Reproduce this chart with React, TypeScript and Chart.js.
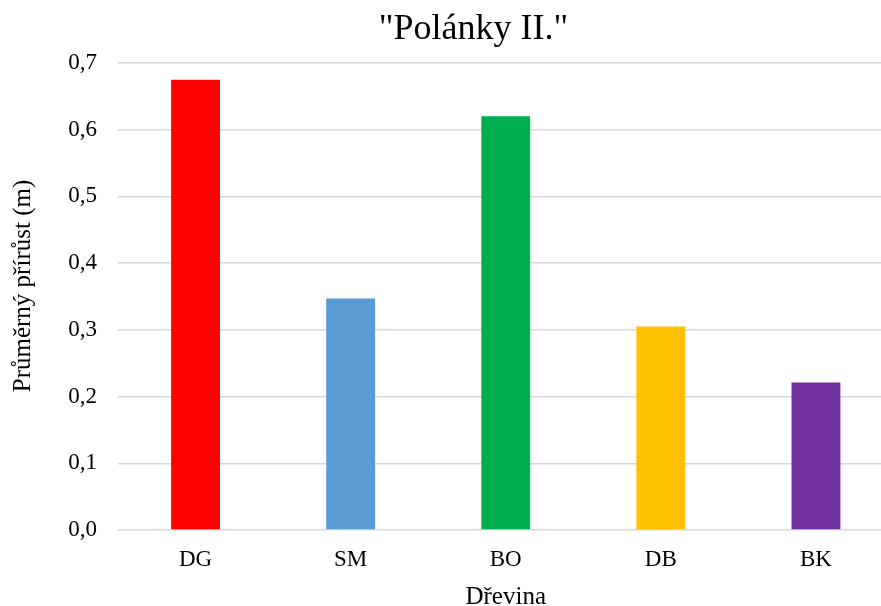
import React, { useEffect, useRef } from "react";
import { Chart, registerables } from "chart.js";

Chart.register(...registerables);

const categories = ["DG", "SM", "BO", "DB", "BK"];
const values = [0.675, 0.347, 0.62, 0.305, 0.221];
const yTicks = [0, 0.1, 0.2, 0.3, 0.4, 0.5, 0.6, 0.7];
const titleText = '"Polánky II."';
const xTitle = "Dřevina";
const yTitle = "Průměrný přírůst (m)";

const barColors = ["#FF0000", "#5B9BD5", "#00B050", "#FFC000", "#7030A0"];
const FONT = "'Liberation Serif', 'Times New Roman', serif";

const textPlugin = {
  id: "customTexts",
  afterDraw(chart: any) {
    const ctx = chart.ctx;
    ctx.save();
    ctx.fillStyle = "#000";
    // main title
    ctx.font = `36px ${FONT}`;
    ctx.textAlign = "center";
    ctx.textBaseline = "alphabetic";
    ctx.fillText(titleText, 473.5, 38.5);
    // y axis title
    ctx.translate(23.5, 286);
    ctx.rotate(-Math.PI / 2);
    ctx.font = `25px ${FONT}`;
    ctx.textAlign = "center";
    ctx.textBaseline = "middle";
    ctx.fillText(yTitle, 0, 0);
    ctx.restore();
  },
};

export default function App() {
  const ref = useRef<HTMLCanvasElement | null>(null);
  useEffect(() => {
    if (!ref.current) return;
    const chart = new Chart(ref.current, {
      type: "bar",
      data: {
        labels: categories,
        datasets: [
          {
            data: values,
            backgroundColor: barColors,
            borderWidth: 0,
            barPercentage: 0.315,
            categoryPercentage: 1,
          },
        ],
      },
      plugins: [textPlugin],
      options: {
        responsive: false,
        animation: false,
        layout: { padding: { left: 0, right: 52.5, top: 63, bottom: 0 } },
        plugins: {
          legend: { display: false },
          tooltip: { enabled: false },
          title: { display: false },
        },
        scales: {
          x: {
            grid: { display: false },
            border: { display: false },
            ticks: {
              color: "#000",
              font: { family: FONT, size: 23 },
              padding: 8,
              maxRotation: 0,
            },
            title: {
              display: true,
              text: xTitle,
              color: "#000",
              font: { family: FONT, size: 25, lineHeight: 0.65 },
              padding: { top: 0, bottom: 0 },
            },
            afterFit: (scale: any) => {
              scale.height = 76;
            },
          },
          y: {
            min: 0,
            max: 0.7,
            afterBuildTicks: (scale: any) => {
              scale.ticks = yTicks.map((v) => ({ value: v }));
            },
            grid: {
              color: "#D9D9D9",
              lineWidth: 1.5,
              drawTicks: false,
            },
            border: { display: false },
            ticks: {
              color: "#000",
              font: { family: FONT, size: 23 },
              padding: 21,
              callback: (v: any) => Number(v).toFixed(1).replace(".", ","),
            },
            title: { display: false },
            afterFit: (scale: any) => {
              scale.width = 118;
            },
          },
        },
      },
    });
    return () => chart.destroy();
  }, []);
  return (
    <div
      style={{
        position: "fixed",
        left: 0,
        top: 0,
        width: 881,
        height: 606,
        overflow: "hidden",
        background: "#fff",
      }}
    >
      <canvas ref={ref} width={946} height={606} style={{ display: "block" }} />
    </div>
  );
}
